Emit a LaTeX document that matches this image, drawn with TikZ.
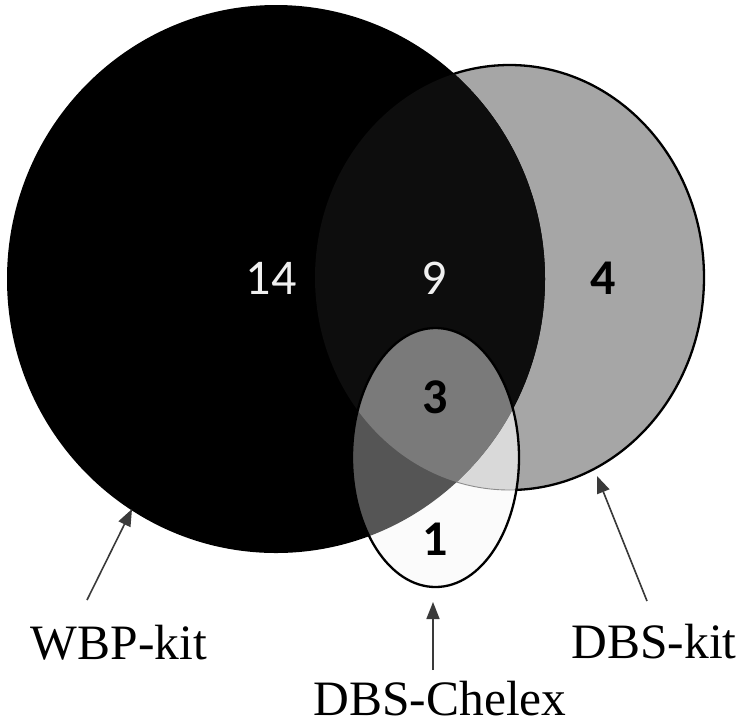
\documentclass[tikz,border=0pt]{standalone}
\usepackage{fontspec}
\setmainfont{Liberation Serif}
\newfontfamily\digitfont{Carlito}
\usetikzlibrary{arrows.meta}
\definecolor{grayc}{HTML}{A6A6A6}
\definecolor{bgc}{HTML}{0D0D0D}
\definecolor{gec}{HTML}{D9D9D9}
\definecolor{bec}{HTML}{555555}
\definecolor{allc}{HTML}{7A7A7A}
\definecolor{eonly}{HTML}{FBFBFB}
\definecolor{arrc}{HTML}{3A3A3A}
\begin{document}
\begin{tikzpicture}[x=1pt,y=-1pt,
  blackset/.style={insert path={(276,279) ellipse [x radius=269pt, y radius=274pt]}},
  grayset/.style={insert path={(509.5,277.5) ellipse [x radius=194.5pt, y radius=212.5pt]}},
  chelset/.style={insert path={(435.5,457.5) ellipse [x radius=83.5pt, y radius=129.5pt]}},
  lbl/.style={font=\fontsize{49.5}{55}\selectfont, anchor=base, inner sep=0pt, text depth=0pt},
  num/.style={font=\digitfont\fontsize{50}{55}\selectfont, inner sep=0pt},
  numb/.style={font=\digitfont\bfseries\fontsize{50}{55}\selectfont, inner sep=0pt},
  ptr/.style={draw=arrc, line width=1.6pt, -{Triangle[length=17pt,width=13pt,fill=arrc]}}]
\useasboundingbox (0,0) rectangle (746,724);
% DBS-kit circle
\fill[grayc, grayset];
\draw[black, line width=2.3pt, grayset];
% WBP-kit circle
\fill[black, blackset];
\begin{scope}
  \clip[blackset];
  \fill[bgc, grayset];
\end{scope}
% DBS-Chelex ellipse
\begin{scope}
  \clip[chelset];
  \fill[eonly, chelset];
  \fill[gec, grayset];
  \draw[black!45, line width=0.9pt, grayset];
  \fill[bec, blackset];
  \begin{scope}
    \clip[blackset];
    \fill[allc, grayset];
  \end{scope}
\end{scope}
\draw[black, line width=2.3pt, chelset];
% counts
\node[num, text=white!94!black] (n14) at (271,278) {14};
\node[num, text=white!94!black] (n9) at (434,278) {9};
\node[numb, text=black] (n4) at (603,278) {4};
\node[numb, text=black] (n3) at (435,397) {3};
\node[numb, text=black] (n1) at (435,539) {1};
% labels
\node[lbl] (wbp) at (119,659) {WBP-kit};
\node[lbl] (dbskit) at (654,658) {DBS-kit};
\node[lbl] (chelex) at (440,715) {DBS-Chelex};
% arrows
\coordinate (wbptail) at (87,600);
\coordinate (wbptip) at (132,509);
\coordinate (kittail) at (647,601);
\coordinate (kittip) at (597,476);
\coordinate (cheltail) at (433,670);
\coordinate (cheltip) at (433,602);
\draw[ptr] (wbptail) -- (wbptip);
\draw[ptr] (kittail) -- (kittip);
\draw[ptr] (cheltail) -- (cheltip);
\end{tikzpicture}
\end{document}
